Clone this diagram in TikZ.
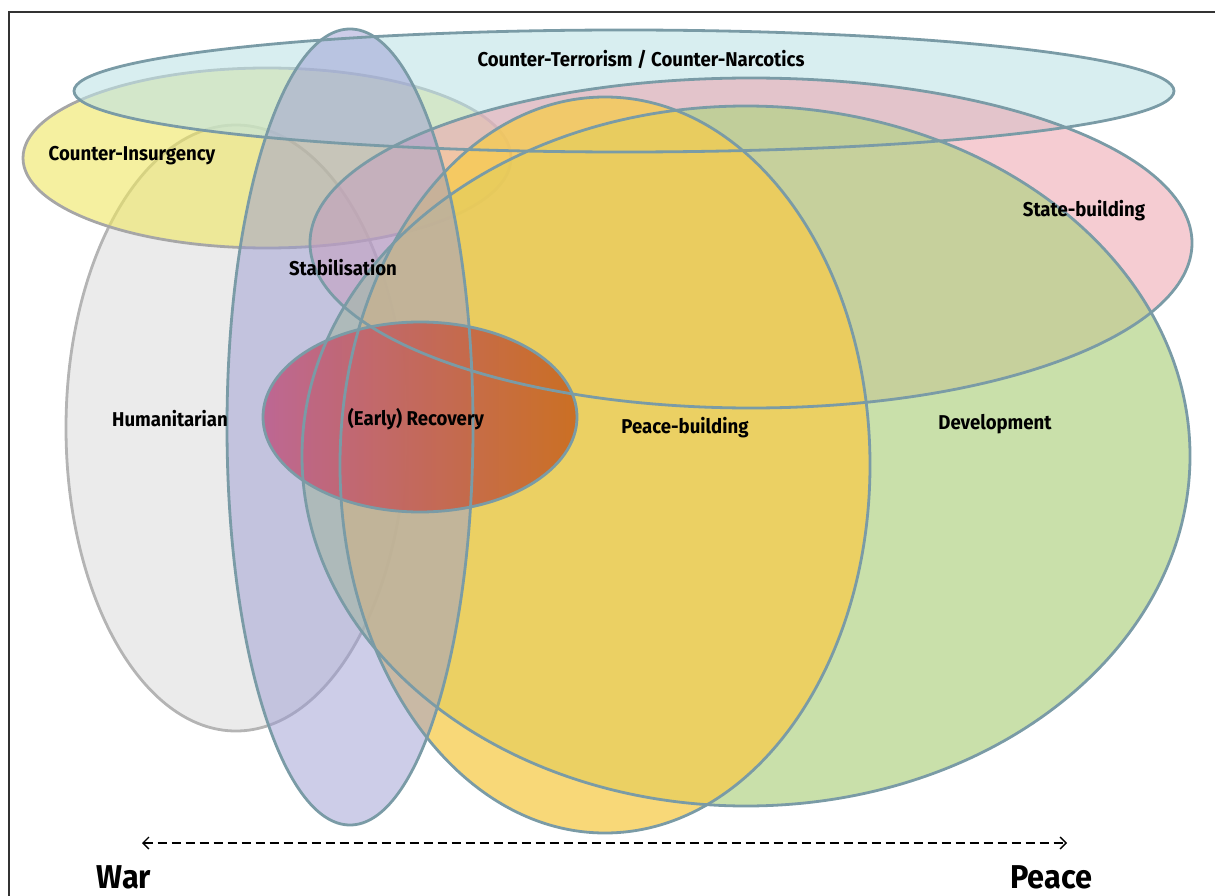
\documentclass[tikz,border=0pt]{standalone}
\usepackage{fontspec}
\setmainfont{Fira Sans}[FakeStretch=0.93]
\usetikzlibrary{arrows.meta}

\definecolor{edgeblue}{HTML}{7A9BA6}
\definecolor{edgegray}{HTML}{B4B4B4}
\definecolor{ctcyan}{HTML}{BEE3E6}
\definecolor{ciyellow}{HTML}{EEE661}
\definecolor{humgray}{HTML}{E6E6E6}
\definecolor{stablue}{HTML}{9B9BD2}
\definecolor{sbpink}{HTML}{EDA2AD}
\definecolor{devgreen}{HTML}{B2D386}
\definecolor{pbgold}{HTML}{F6CB4B}
\definecolor{recpink}{HTML}{E878B0}
\definecolor{recorange}{HTML}{F68228}

\begin{document}
\begin{tikzpicture}[x=1pt,y=-1pt,
	rim/.style={line width=2.8pt, draw=edgeblue},
	lbl/.style={font=\bfseries\fontsize{20}{22}\selectfont, text=black},
	endlbl/.style={font=\bfseries\fontsize{33}{36}\selectfont, text=black, anchor=base, inner sep=0pt}]

	\useasboundingbox (0,0) rectangle (1215,896);
	\draw[line width=1.2pt, black!80] (9,12) rectangle (1225,905);

	% lower areas, with their own outlines
	\fill[humgray, fill opacity=0.8] (236,428) ellipse [x radius=170pt, y radius=303pt];
	\draw[rim, edgegray] (236,428) ellipse [x radius=170pt, y radius=303pt];
	\fill[ciyellow, fill opacity=0.6] (267,158) ellipse [x radius=244pt, y radius=90pt];
	\draw[rim, draw=black!35] (267,158) ellipse [x radius=244pt, y radius=90pt];

	% upper areas
	\fill[ctcyan, fill opacity=0.6] (624,91) ellipse [x radius=550pt, y radius=61pt];
	\fill[sbpink, fill opacity=0.55] (751,243) ellipse [x radius=441pt, y radius=165pt];
	\fill[devgreen, fill opacity=0.7] (746,456) ellipse [x radius=444pt, y radius=350pt];
	\fill[pbgold, fill opacity=0.75] (605,465) ellipse [x radius=265pt, y radius=368pt];
	\fill[stablue, fill opacity=0.5] (350,427) ellipse [x radius=123pt, y radius=398pt];
	\fill[left color=recpink, right color=recorange, fill opacity=0.78] (420,417) ellipse [x radius=157pt, y radius=95pt];

	% outlines
	\draw[rim] (624,91) ellipse [x radius=550pt, y radius=61pt];
	\draw[rim] (751,243) ellipse [x radius=441pt, y radius=165pt];
	\draw[rim] (746,456) ellipse [x radius=444pt, y radius=350pt];
	\draw[rim] (605,465) ellipse [x radius=265pt, y radius=368pt];
	\draw[rim] (350,427) ellipse [x radius=123pt, y radius=398pt];
	\draw[rim] (420,417) ellipse [x radius=157pt, y radius=95pt];

	% labels
	\node[lbl] (terror) at (641,59) {Counter-Terrorism / Counter-Narcotics};
	\node[lbl] (insurg) at (132,156) {Counter-Insurgency};
	\node[lbl] (state) at (1084,211) {State-building};
	\node[lbl] (stabil) at (343,268) {Stabilisation};
	\node[lbl] (human) at (170,419) {Humanitarian};
	\node[lbl] (recov) at (416,419) {(Early) Recovery};
	\node[lbl] (peacebld) at (685,428) {Peace-building};
	\node[lbl] (devel) at (995,424) {Development};

	\node[endlbl] (war) at (124,888) {War};
	\node[endlbl] (peace) at (1051,888) {Peace};

	\coordinate (warend) at (142,843);
	\coordinate (peaceend) at (1067,843);
	\draw[{Straight Barb[length=6pt,width=12pt]}-{Straight Barb[length=6pt,width=12pt]}, line width=1.3pt, dash pattern=on 9pt off 5pt] (warend) -- (peaceend);

\end{tikzpicture}
\end{document}
